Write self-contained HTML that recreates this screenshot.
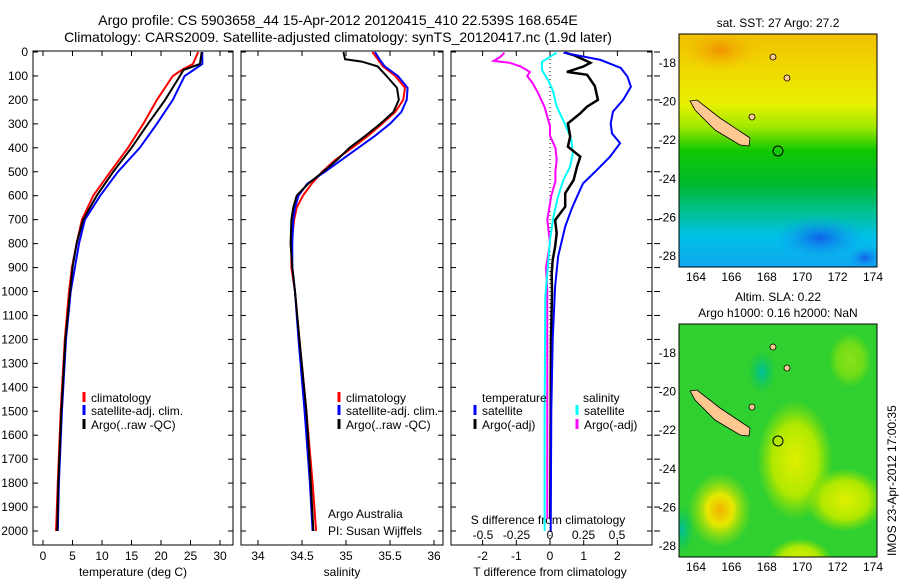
<!DOCTYPE html>
<html><head><meta charset="utf-8"><style>
body{margin:0;background:#fff;}
svg text{font-family:"Liberation Sans",sans-serif;fill:#000;}
</style></head><body>
<svg id="c" width="900" height="580" xmlns="http://www.w3.org/2000/svg">
<defs>
<clipPath id="c1"><rect x="679" y="34" width="198" height="233"/></clipPath>
<clipPath id="c2"><rect x="679" y="324" width="198" height="233"/></clipPath>
<linearGradient id="sstg" x1="0" y1="0" x2="0" y2="1">
<stop offset="0" stop-color="#f0c000"/><stop offset="0.15" stop-color="#f0d800"/><stop offset="0.3" stop-color="#e8f000"/>
<stop offset="0.4" stop-color="#a0e800"/><stop offset="0.5" stop-color="#10c800"/><stop offset="0.65" stop-color="#00b830"/><stop offset="0.76" stop-color="#00c090"/>
<stop offset="0.87" stop-color="#00c0e8"/><stop offset="1" stop-color="#10a8f0"/></linearGradient>
<radialGradient id="bl"><stop offset="0" stop-color="#1060e8"/><stop offset="1" stop-color="#10a0f0" stop-opacity="0"/></radialGradient>
<radialGradient id="or"><stop offset="0" stop-color="#f09000"/><stop offset="1" stop-color="#f0c000" stop-opacity="0"/></radialGradient>
<radialGradient id="yb"><stop offset="0" stop-color="#f0b000"/><stop offset="0.4" stop-color="#e8e800"/><stop offset="1" stop-color="#a0e000" stop-opacity="0"/></radialGradient>
<radialGradient id="yb2"><stop offset="0" stop-color="#e0f000"/><stop offset="0.6" stop-color="#b0e800"/><stop offset="1" stop-color="#90e000" stop-opacity="0"/></radialGradient>
<radialGradient id="tl"><stop offset="0" stop-color="#00c0a0"/><stop offset="1" stop-color="#00c060" stop-opacity="0"/></radialGradient>
</defs>
<text x="338" y="25" font-size="14" text-anchor="middle">Argo profile: CS 5903658_44 15-Apr-2012 20120415_410 22.539S 168.654E</text>
<text x="338" y="42" font-size="14" text-anchor="middle">Climatology: CARS2009. Satellite-adjusted climatology: synTS_20120417.nc (1.9d later)</text>
<g id="g"></g>
<g>
<g clip-path="url(#c1)">
<rect x="679" y="34" width="198" height="233" fill="url(#sstg)"/>
<ellipse cx="720" cy="50" rx="40" ry="22" fill="url(#or)"/>
<ellipse cx="820" cy="238" rx="45" ry="22" fill="url(#bl)"/>
<ellipse cx="865" cy="258" rx="18" ry="12" fill="url(#bl)"/>
</g>
<rect x="679" y="34" width="198" height="233" fill="none" stroke="#000"/>
<polygon points="690,101 697,100 720,118 750,138 749,146 740,145 715,130 695,110" fill="#ffc890" stroke="#000" stroke-width="0.8"/>
<ellipse cx="773" cy="57" rx="3" ry="3" fill="#ffc890" stroke="#000" stroke-width="0.8"/>
<ellipse cx="787" cy="78" rx="3" ry="3" fill="#ffc890" stroke="#000" stroke-width="0.8"/>
<ellipse cx="752" cy="117" rx="3" ry="3" fill="#ffc890" stroke="#000" stroke-width="0.8"/>
<circle cx="778" cy="151" r="5" fill="none" stroke="#000"/>
<text x="778" y="27" font-size="12" text-anchor="middle">sat. SST: 27 Argo: 27.2</text>
</g>
<g>
<g clip-path="url(#c2)">
<rect x="679" y="324" width="198" height="233" fill="#30d030"/>
<ellipse cx="795" cy="460" rx="38" ry="60" fill="url(#yb2)"/>
<ellipse cx="845" cy="500" rx="40" ry="32" fill="url(#yb2)"/>
<ellipse cx="720" cy="510" rx="32" ry="38" fill="url(#yb)"/>
<ellipse cx="800" cy="560" rx="32" ry="22" fill="url(#yb2)"/>
<ellipse cx="850" cy="360" rx="22" ry="28" fill="url(#yb2)" opacity="0.5"/>
<ellipse cx="762" cy="372" rx="14" ry="22" fill="url(#tl)"/>
<ellipse cx="682" cy="530" rx="12" ry="25" fill="url(#tl)"/>
</g>
<rect x="679" y="324" width="198" height="233" fill="none" stroke="#000"/>
<polygon points="690,391 697,390 720,408 750,428 749,436 740,435 715,420 695,400" fill="#ffc890" stroke="#000" stroke-width="0.8"/>
<ellipse cx="773" cy="347" rx="3" ry="3" fill="#ffc890" stroke="#000" stroke-width="0.8"/>
<ellipse cx="787" cy="368" rx="3" ry="3" fill="#ffc890" stroke="#000" stroke-width="0.8"/>
<ellipse cx="752" cy="407" rx="3" ry="3" fill="#ffc890" stroke="#000" stroke-width="0.8"/>
<circle cx="778" cy="441" r="5" fill="none" stroke="#000"/>
<text x="778" y="301" font-size="12" text-anchor="middle">Altim. SLA: 0.22</text>
<text x="778" y="317" font-size="12" text-anchor="middle">Argo h1000: 0.16 h2000: NaN</text>
</g>
<text transform="translate(896,556) rotate(-90)" font-size="12">IMOS 23-Apr-2012 17:00:35</text>
</svg>
<script>
const tDepth=[0,50,75,100,200,300,400,500,600,700,800,900,1000,1200,1500,1800,2000];
const tClim=[26.3,25.4,23.5,22,19.3,17,14.4,11.4,8.5,6.6,5.7,4.9,4.4,3.7,3.0,2.5,2.2];
const tSat=[27,27,25.5,24,22,19.3,16.4,12.7,9.7,7.1,6.1,5.4,4.7,3.9,3.2,2.7,2.5];
const tArgo=[26.9,26.6,23.8,23.2,20.7,17.8,15,11.9,9.1,6.8,5.7,5,4.6,3.8,3.1,2.6,2.4];
const sDepth=[0,30,40,60,100,150,200,250,300,350,400,450,500,550,600,650,700,800,900,1000,1200,1500,1800,2000];
const sClim=[35.3,35.36,35.38,35.42,35.56,35.67,35.65,35.56,35.41,35.25,35.07,34.88,34.73,34.61,34.51,34.44,34.41,34.38,34.38,34.42,34.47,34.55,34.62,34.66];
const sSat=[35.33,35.38,35.4,35.44,35.59,35.7,35.69,35.63,35.5,35.33,35.14,34.95,34.76,34.56,34.46,34.42,34.4,34.39,34.39,34.42,34.46,34.53,34.59,34.62];
const sArgo=[34.97,34.99,35.18,35.36,35.46,35.58,35.6,35.54,35.39,35.22,35.04,34.9,34.74,34.57,34.44,34.4,34.38,34.37,34.39,34.42,34.47,34.55,34.6,34.63];
const dtSatD=[3,33,67,103,145,200,249,298,340,381,437,493,549,604,652,729,854,980,1200,1500,2000];
const dtSat=[0.4,1.5,2.1,2.3,2.4,2.17,1.87,1.8,1.84,2.08,1.78,1.39,0.98,0.8,0.65,0.45,0.24,0.15,0.08,0.04,0.02];
const dtArgoD=[3,15,45,60,83,95,142,200,228,256,298,353,395,437,479,535,590,646,702,757,813,868,924,1008,1200,1500,1950];
const dtArgo=[0.45,0.74,1.2,1.0,0.5,1.1,1.33,1.42,1.1,0.9,0.53,0.6,0.53,0.9,0.8,0.7,0.45,0.45,0.15,0.2,0.15,0.08,0.05,0.06,0.03,0.02,0.01];
const dsSatD=[3,41,76,117,159,228,298,367,423,479,535,604,688,785,924,1022,1500,2000];
const dsSat=[0.05,-0.06,-0.06,-0.015,0.02,0.05,0.11,0.16,0.17,0.15,0.1,0.06,0.025,0,-0.02,-0.035,-0.04,-0.04];
const dsArgoD=[3,20,37,45,60,83,100,130,170,230,310,350,400,450,500,540,600,700,800,900,1000,1500,1950];
const dsArgo=[-0.34,-0.37,-0.42,-0.3,-0.22,-0.15,-0.17,-0.13,-0.09,-0.04,0,0,0.04,0.05,0.04,0.04,0.01,-0.02,0,-0.03,-0.02,-0.02,-0.02];
const depthTicks=[0,100,200,300,400,500,600,700,800,900,1000,1100,1200,1300,1400,1500,1600,1700,1800,1900,2000];
const tTicks=[0,5,10,15,20,25,30];
const sTicks=[34,34.5,35,35.5,36];
const dtTicks=[-2,-1,0,1,2];
const dsTicks=[-0.5,-0.25,0,0.25,0.5];
const lonTicks=[164,166,168,170,172,174];
const latTicks=[18,20,22,24,26,28];

const NS='http://www.w3.org/2000/svg';
const G=document.getElementById('g');
function mk(tag,at,parent){const e=document.createElementNS(NS,tag);for(const k in at)e.setAttribute(k,at[k]);(parent||G).appendChild(e);return e;}
const Y=d=>52+d*0.2395;
const xT=t=>43+t*5.9;
const xS=s=>258+(s-34)*88;
const xDT=v=>550+v*33.7;
const xDS=v=>550+v*134;
const P=[[33,233],[241,443],[451,652]];
const TOP=51,BOT=545;
P.forEach((p,i)=>{
  const r=mk('rect',{x:p[0],y:TOP,width:p[1]-p[0],height:BOT-TOP,fill:'none',stroke:'#000'});
  
  
  depthTicks.forEach(d=>{
    mk('line',{x1:p[0],x2:p[0]+5,y1:Y(d),y2:Y(d),stroke:'#000'});
    mk('line',{x1:p[1],x2:p[1]-5,y1:Y(d),y2:Y(d),stroke:'#000'});
  });
});
depthTicks.forEach(d=>{
  const t=mk('text',{x:28,y:Y(d)+4,'font-size':12,'text-anchor':'end'});t.textContent=d;
  
  
  mk('line',{x1:654,x2:660,y1:Y(d),y2:Y(d),stroke:'#000'});
});
function xticks(ticks,fx,labY){ticks.forEach(v=>{const x=fx(v);
  mk('line',{x1:x,x2:x,y1:BOT,y2:BOT-5,stroke:'#000'});mk('line',{x1:x,x2:x,y1:TOP,y2:TOP+5,stroke:'#000'});
  const t=mk('text',{x:x,y:labY,'font-size':12,'text-anchor':'middle'});t.textContent=v;
  
  });}
xticks(tTicks,xT,560);
xticks(sTicks,xS,560);
xticks(dtTicks,xDT,560);
dsTicks.forEach(v=>{const t=mk('text',{x:xDS(v),y:539,'font-size':12,'text-anchor':'middle'});t.textContent=v;
  
  });
function lbl(x,y,s,name,anc){const t=mk('text',{x:x,y:y,'font-size':12,'text-anchor':anc||'middle'});t.textContent=s;
  
  return t;}
lbl(133,576,'temperature (deg C)','x-axis-title-temperature');
lbl(342,576,'salinity','x-axis-title-salinity');
lbl(550,576,'T difference from climatology','x-axis-title-t-diff');
lbl(548,524,'S difference from climatology','s-diff-axis-title');
lbl(328,518,'Argo Australia','credit-line-1','start');
lbl(328,535,'PI: Susan Wijffels','credit-line-2','start');
mk('line',{x1:550,x2:550,y1:TOP,y2:BOT,stroke:'#000','stroke-dasharray':'1,3'});
function line(ds,vs,fx,col,w,name){const pts=ds.map((d,i)=>fx(vs[i]).toFixed(1)+','+Y(d).toFixed(1)).join(' ');
  const e=mk('polyline',{points:pts,fill:'none',stroke:col,'stroke-width':w});
  
  }
line(tDepth,tClim,xT,'#f00',2,'temp-climatology-line');
line(tDepth,tSat,xT,'#00f',2,'temp-satellite-line');
line(tDepth,tArgo,xT,'#000',2,'temp-argo-line');
line(sDepth,sClim,xS,'#f00',2,'sal-climatology-line');
line(sDepth,sSat,xS,'#00f',2,'sal-satellite-line');
line(sDepth,sArgo,xS,'#000',2,'sal-argo-line');
line(dsArgoD,dsArgo,xDS,'#f0f',2,'s-diff-argo-line');
line(dsSatD,dsSat,xDS,'#0ff',2,'s-diff-satellite-line');
line(dtArgoD,dtArgo,xDT,'#000',2.5,'t-diff-argo-line');
line(dtSatD,dtSat,xDT,'#00f',2,'t-diff-satellite-line');
function leg(x,y,col,s){mk('line',{x1:x,x2:x,y1:y-10,y2:y,stroke:col,'stroke-width':3});
  const t=mk('text',{x:x+7,y:y,'font-size':12});t.textContent=s;
  
  }
[84,339].forEach(x=>{leg(x,402,'#f00','climatology');leg(x,415,'#00f','satellite-adj. clim.');leg(x,429,'#000','Argo(..raw -QC)');});
lbl(482,402,'temperature','legend-header-temperature','start');
lbl(583,402,'salinity','legend-header-salinity','start');
leg(475,415,'#00f','satellite');leg(475,429,'#000','Argo(-adj)');
leg(577,415,'#0ff','satellite');leg(577,429,'#f0f','Argo(-adj)');
const lx=v=>696+(v-164)*17.7, ly=v=>63+(v-18)*19.3;
[0,290].forEach(off=>{
  lonTicks.forEach(v=>{mk('line',{x1:lx(v),x2:lx(v),y1:34+off,y2:38+off,stroke:'#000'});mk('line',{x1:lx(v),x2:lx(v),y1:267+off,y2:263+off,stroke:'#000'});
    lbl(lx(v),281+off,String(v),'map-lon-tick-label');});
  latTicks.forEach(v=>{mk('line',{x1:679,x2:683,y1:ly(v)+off,y2:ly(v)+off,stroke:'#000'});mk('line',{x1:877,x2:873,y1:ly(v)+off,y2:ly(v)+off,stroke:'#000'});
    lbl(676,ly(v)+off+4,'-'+v,'map-lat-tick-label','end');});
});
</script>
</body></html>
